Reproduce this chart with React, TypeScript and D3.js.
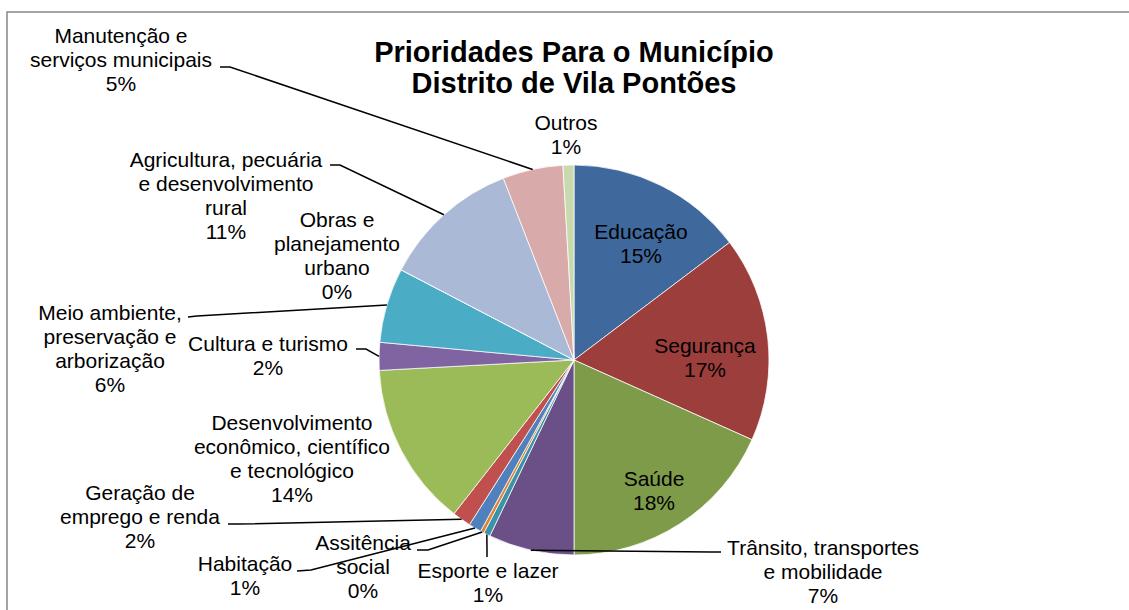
import React, { useEffect } from "react";
import * as d3 from "d3";

// categories in clockwise order, starting at 12 o'clock
const categories = [
  "Educação",
  "Segurança",
  "Saúde",
  "Trânsito, transportes\ne mobilidade",
  "Esporte e lazer",
  "Assitência\nsocial",
  "Habitação",
  "Geração de\nemprego e renda",
  "Desenvolvimento\neconômico, científico\ne tecnológico",
  "Cultura e turismo",
  "Meio ambiente,\npreservação e\narborização",
  "Obras e\nplanejamento\nurbano",
  "Agricultura, pecuária\ne desenvolvimento\nrural",
  "Manutenção e\nserviços municipais",
  "Outros",
];

// share of answers (%)
const values = [14.7, 17.0, 18.3, 7.1, 0.55, 0.3, 1.05, 1.55, 13.6, 2.3, 6.2, 0, 11.45, 5.0, 0.9];

const colors = [
  "#3f689c", "#9c3e3c", "#7e9b4a", "#6a5087", "#3a93a8", "#de8234",
  "#4f81bd", "#c0504d", "#9bbb59", "#8064a2", "#4bacc6", "#f79646",
  "#aab9d6", "#d9aaaa", "#c9d9ae",
];

const titleLines = ["Prioridades Para o Município", "Distrito de Vila Pontões"];

// label placement: text center x, first baseline y, optional leader start / knee
const labelLayout = [
  { x: 641, y: 239 },
  { x: 705, y: 353 },
  { x: 654, y: 486 },
  { x: 823, y: 555, from: [721, 552], knee: [711, 552] },
  { x: 488, y: 578, from: [487, 557], knee: [487, 550] },
  { x: 363, y: 550, from: [417, 550], knee: [428, 550] },
  { x: 245, y: 571, from: [297, 571], knee: [311, 570] },
  { x: 140, y: 500, from: [228, 524], knee: [238, 524] },
  { x: 292, y: 430 },
  { x: 268, y: 351, from: [356, 349], knee: [366, 349] },
  { x: 110, y: 320, from: [188, 317], knee: [197, 316] },
  { x: 337, y: 227 },
  { x: 226, y: 167, from: [330, 165], knee: [340, 165] },
  { x: 121, y: 43, from: [220, 67], knee: [230, 67] },
  { x: 566, y: 130 },
];

const width = 1129,
  height = 610;
const cx = 574,
  cy = 360,
  radius = 195;
const lineH = 24;
const font = "'Liberation Sans', Arial, sans-serif";

const App = () => {
  useEffect(() => {
    document.body.style.margin = "0";
  }, []);

  const pie = d3.pie<number>().sort(null).value((d) => d);
  const arcs = pie(values);
  const arc = d3.arc<d3.PieArcDatum<number>>().innerRadius(0).outerRadius(radius);
  const edge = d3.arc<d3.PieArcDatum<number>>().innerRadius(radius).outerRadius(radius);

  const fmt = (v) => Math.round(v) + "%";

  return (
    <svg width={width} height={height} style={{ display: "block", background: "white" }}>
      <rect x={7} y={12} width={width + 20} height={height + 20} fill="white" stroke="#868686" strokeWidth={1.5} />

      {titleLines.map((t, i) => (
        <text key={t} x={cx} y={62 + i * 31} textAnchor="middle" fontFamily={font} fontWeight="bold" fontSize={29}>
          {t}
        </text>
      ))}

      <g transform={`translate(${cx},${cy})`}>
        {arcs.map((a, i) => (
          <path key={i} d={arc(a)} fill={colors[i]} stroke="white" strokeWidth={0.75} />
        ))}
      </g>

      {arcs.map((a, i) => {
        const l = labelLayout[i];
        if (!l.from) return null;
        const [px, py] = edge.centroid(a);
        const pts = [l.from, l.knee, [cx + px, cy + py]];
        return (
          <polyline
            key={"l" + i}
            points={pts.map((p) => p.join(",")).join(" ")}
            fill="none"
            stroke="black"
            strokeWidth={1.5}
          />
        );
      })}

      {categories.map((c, i) => {
        const l = labelLayout[i];
        const lines = c.split("\n").concat(fmt(values[i]));
        return (
          <text key={"t" + i} textAnchor="middle" fontFamily={font} fontSize={21} fill="black">
            {lines.map((s, j) => (
              <tspan key={j} x={l.x} y={l.y + j * lineH}>
                {s}
              </tspan>
            ))}
          </text>
        );
      })}
    </svg>
  );
};

export default App;
